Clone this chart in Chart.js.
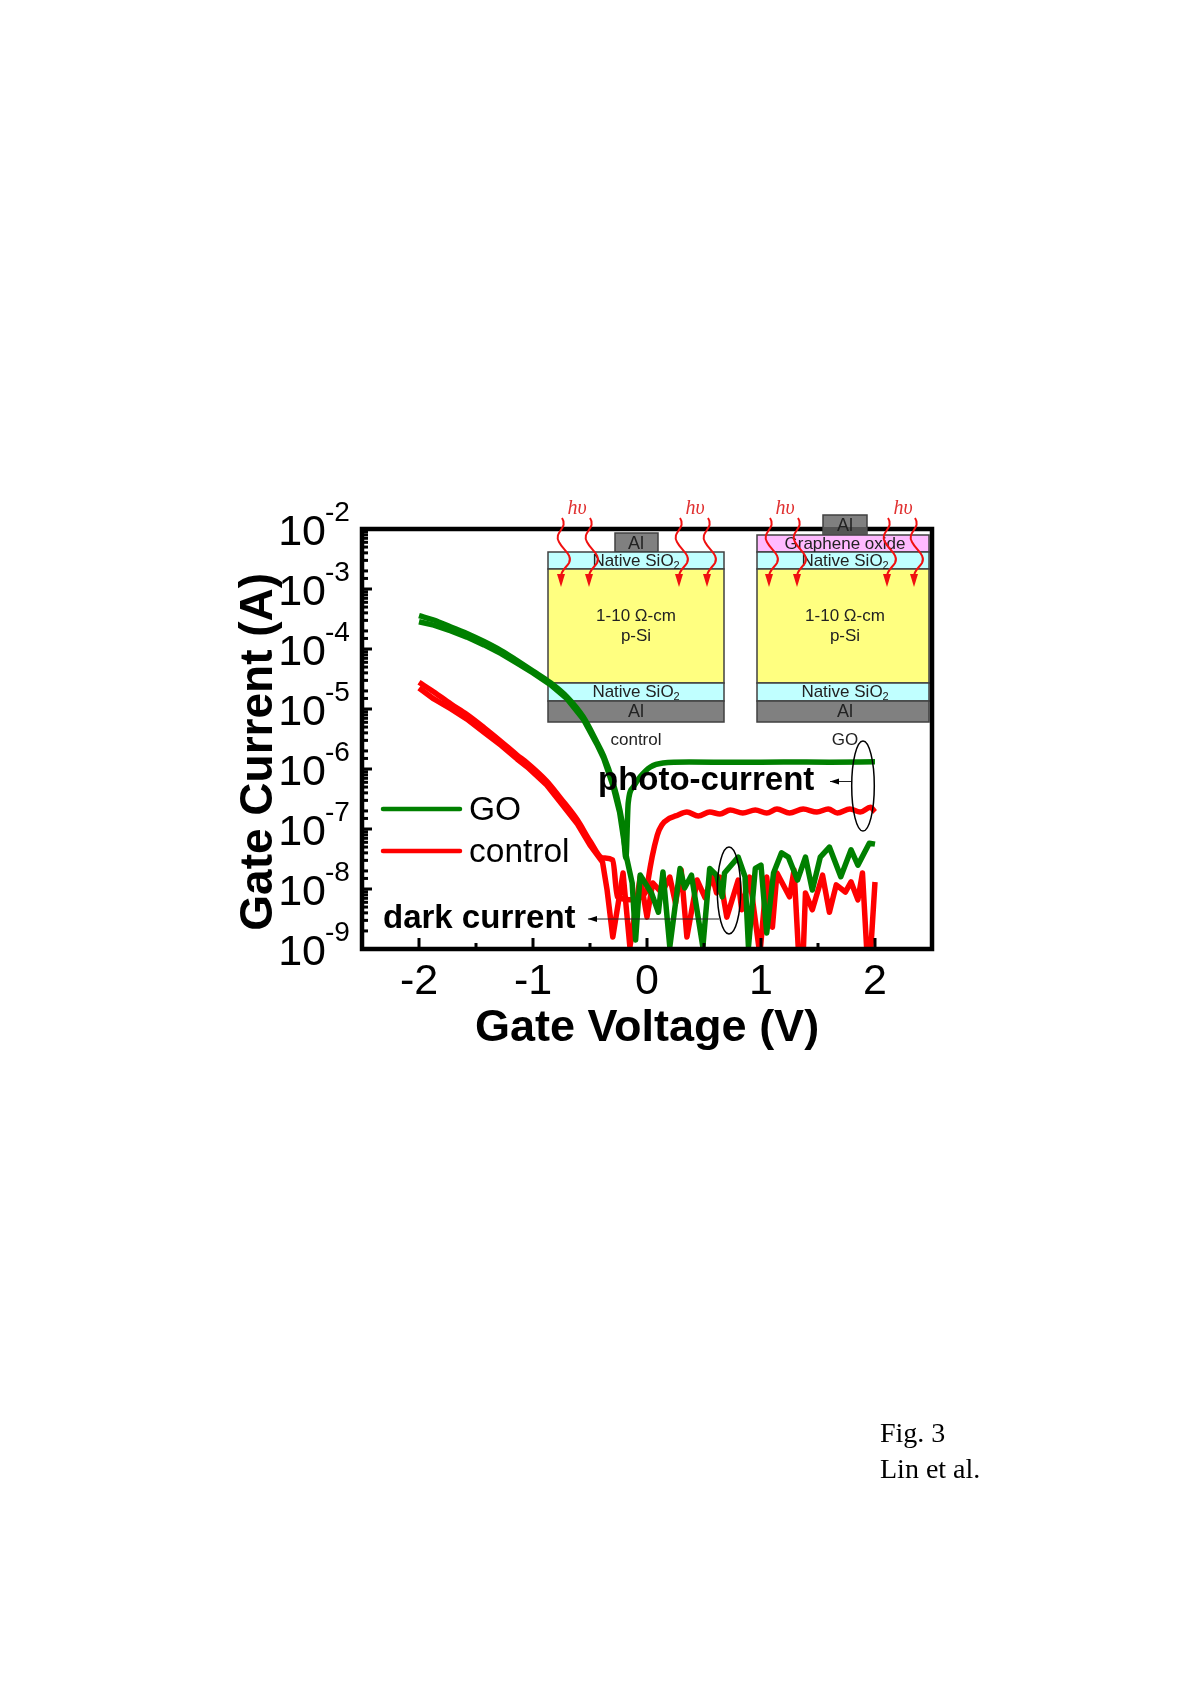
<!DOCTYPE html>
<html>
<head>
<meta charset="utf-8">
<title>Fig. 3</title>
<script src="https://cdn.jsdelivr.net/npm/chart.js@4/dist/chart.umd.min.js"></script>
<style>
  html, body { margin: 0; padding: 0; background: #fff; }
  #wrap { position: relative; width: 1200px; height: 1698px; overflow: hidden; }
  canvas { position: absolute; left: 0; top: 0; }
  .caption { position: absolute; left: 880px; font: 28px/30px "Liberation Serif", serif; color: #000; }
</style>
</head>
<body>
<div id="wrap">
  <canvas id="chart" width="1200" height="1698"></canvas>
  <div class="caption" style="top:1418px">Fig. 3</div>
  <div class="caption" style="top:1454px">Lin et al.</div>
</div>
<script>
const yTickLabels = ["1e-9", "1e-8", "1e-7", "1e-6", "1e-5", "1e-4", "1e-3", "1e-2"];
const xTickLabels = [-2, -1, 0, 1, 2];
const seriesNames = ["GO", "control"];

// GO under light
const goLightV = [-2, -1.87, -1.72, -1.58, -1.43, -1.28, -1.14, -1, -0.85, -0.7, -0.56, -0.44, -0.38, -0.3, -0.24, -0.21, -0.185, -0.165, -0.12, -0.06, 0.03, 0.14, 0.37, 0.8, 1.2, 1.6, 2];
const goLightI = [3.6e-4, 3.04e-4, 2.33e-4, 1.81e-4, 1.33e-4, 9.4e-5, 6.4e-5, 4.3e-5, 2.77e-5, 1.58e-5, 7.4e-6, 2.8e-6, 1.65e-6, 6.1e-7, 2.15e-7, 1e-7, 3.3e-8, 2.7e-7, 5e-7, 7.4e-7, 1.08e-6, 1.26e-6, 1.31e-6, 1.29e-6, 1.31e-6, 1.3e-6, 1.32e-6];

// GO in the dark
const goDarkV = [-2, -1.87, -1.72, -1.58, -1.43, -1.28, -1.14, -1, -0.85, -0.7, -0.56, -0.44, -0.38, -0.3, -0.24, -0.21, -0.18, -0.13, -0.1, -0.06, 0.04, 0.1, 0.14, 0.2, 0.29, 0.33, 0.39, 0.49, 0.55, 0.61, 0.66, 0.68, 0.8, 0.86, 0.89, 0.95, 1, 1.05, 1.11, 1.18, 1.24, 1.32, 1.39, 1.45, 1.52, 1.6, 1.7, 1.79, 1.85, 1.95, 2];
const goDarkI = [2.85e-4, 2.5e-4, 2e-4, 1.58e-4, 1.17e-4, 8.4e-5, 5.8e-5, 4e-5, 2.56e-5, 1.47e-5, 6.8e-6, 2.6e-6, 1.5e-6, 5.4e-7, 1.9e-7, 7.9e-8, 3.4e-8, 1.26e-8, 1.41e-9, 1.71e-8, 8.5e-9, 4.1e-9, 1.92e-8, 1.08e-9, 2.2e-8, 1.04e-8, 1.7e-8, 1.08e-9, 2.2e-8, 1.7e-8, 7.4e-9, 1.85e-8, 3.4e-8, 1.6e-8, 1.08e-9, 2.2e-8, 2.5e-8, 1.85e-9, 1.85e-8, 4e-8, 3.4e-8, 1.41e-8, 3.4e-8, 9.6e-9, 3.4e-8, 5e-8, 1.6e-8, 4.5e-8, 2.5e-8, 5.8e-8, 5.6e-8];

// control under light
const controlLightV = [-2, -1.87, -1.72, -1.58, -1.43, -1.28, -1.14, -1.05, -0.88, -0.76, -0.61, -0.5, -0.39, -0.3, -0.26, -0.15, 0, 0.01, 0.09, 0.13, 0.2, 0.25, 0.35, 0.45, 0.55, 0.64, 0.73, 0.84, 0.95, 1.05, 1.14, 1.25, 1.37, 1.49, 1.59, 1.67, 1.78, 1.87, 1.96, 2];
const controlLightI = [2.8e-5, 1.92e-5, 1.21e-5, 8.1e-6, 4.9e-6, 2.87e-6, 1.71e-6, 1.26e-6, 6.3e-7, 3.3e-7, 1.41e-7, 6.3e-8, 3.3e-8, 3.04e-8, 7.4e-9, 6.6e-9, 9.6e-9, 1.41e-8, 7.9e-8, 1.17e-7, 1.52e-7, 1.65e-7, 1.92e-7, 1.65e-7, 1.92e-7, 1.78e-7, 2.07e-7, 1.85e-7, 2.07e-7, 1.85e-7, 2.15e-7, 1.85e-7, 2.15e-7, 1.92e-7, 2.15e-7, 1.85e-7, 2.15e-7, 1.92e-7, 2.3e-7, 1.92e-7];

// control in the dark
const controlDarkV = [-2, -1.87, -1.72, -1.58, -1.43, -1.28, -1.14, -1.05, -0.88, -0.76, -0.61, -0.5, -0.39, -0.35, -0.3, -0.21, -0.15, -0.06, 0, 0.05, 0.13, 0.2, 0.25, 0.3, 0.35, 0.44, 0.51, 0.57, 0.61, 0.64, 0.7, 0.8, 0.83, 0.9, 0.99, 1.05, 1.1, 1.14, 1.25, 1.29, 1.33, 1.37, 1.39, 1.45, 1.54, 1.6, 1.66, 1.74, 1.79, 1.85, 1.89, 1.93, 1.96, 2];
const controlDarkI = [2.24e-5, 1.47e-5, 1e-5, 6.8e-6, 4.1e-6, 2.47e-6, 1.47e-6, 1.08e-6, 5.4e-7, 2.8e-7, 1.21e-7, 5.4e-8, 2.8e-8, 9.6e-9, 1.58e-9, 1.85e-8, 1.08e-9, 1.58e-8, 3.4e-9, 1.26e-8, 8.6e-9, 1.58e-8, 5.8e-9, 2.07e-8, 1.58e-9, 1.41e-8, 7.1e-9, 1.71e-8, 8.6e-9, 1.58e-8, 3.4e-9, 1.41e-8, 4.5e-9, 1.58e-8, 8e-10, 1.58e-8, 2.3e-9, 1.85e-8, 7.4e-9, 2.07e-8, 8e-10, 8e-10, 8.6e-9, 4.5e-9, 1.7e-8, 4.1e-9, 1.17e-8, 8.9e-9, 1.31e-8, 6.6e-9, 1.85e-8, 8e-10, 8e-10, 1.31e-8];

const GREEN = "#008000";
const RED = "#ff0000";
const SANS = '"Liberation Sans", Arial, sans-serif';

function toPoints(xs, ys) {
  return xs.map((x, i) => ({ x: x, y: ys[i] }));
}

function curve(label, xs, ys, color, smooth) {
  return {
    label: label,
    data: toPoints(xs, ys),
    borderColor: color,
    backgroundColor: color,
    borderWidth: 5.5,
    pointRadius: 0,
    tension: 0,
    cubicInterpolationMode: smooth ? "monotone" : "default",
    borderJoinStyle: "round",
  };
}

function label(ctx, text, x, y, font, color, align) {
  ctx.font = font;
  ctx.fillStyle = color || "#000";
  ctx.textAlign = align || "center";
  ctx.textBaseline = "alphabetic";
  ctx.fillText(text, x, y);
}

function layer(ctx, x, y, w, h, fill) {
  ctx.fillStyle = fill;
  ctx.fillRect(x, y, w, h);
  ctx.strokeStyle = "#404040";
  ctx.lineWidth = 1.5;
  ctx.strokeRect(x, y, w, h);
}

function nativeOxide(ctx, cx, baseline) {
  const text = "Native SiO";
  ctx.font = "17px " + SANS;
  const w = ctx.measureText(text).width;
  label(ctx, text, cx - 3 - w / 2, baseline, "17px " + SANS, "#222", "left");
  label(ctx, "2", cx - 3 + w / 2, baseline + 3, "11px " + SANS, "#222", "left");
}

function device(ctx, left, width, cx, caption) {
  layer(ctx, left, 552, width, 17, "#c0ffff");
  layer(ctx, left, 569, width, 114, "#ffff80");
  layer(ctx, left, 683, width, 18, "#c0ffff");
  layer(ctx, left, 701, width, 21, "#808080");
  nativeOxide(ctx, cx, 566);
  nativeOxide(ctx, cx, 697);
  label(ctx, "1-10 Ω-cm", cx, 621, "17px " + SANS, "#222");
  label(ctx, "p-Si", cx, 641, "17px " + SANS, "#222");
  label(ctx, "Al", cx, 717, "18px " + SANS, "#222");
  label(ctx, caption, cx, 745, "17px " + SANS, "#222");
}

function wavyArrow(ctx, x) {
  ctx.strokeStyle = "#f01010";
  ctx.fillStyle = "#f01010";
  ctx.lineWidth = 2;
  ctx.beginPath();
  ctx.moveTo(x, 518);
  ctx.bezierCurveTo(x + 7, 528, x - 9, 532, x - 3, 542);
  ctx.bezierCurveTo(x + 1, 550, x + 11, 555, x + 7, 563);
  ctx.bezierCurveTo(x + 4, 568, x - 1, 570, x - 1, 577);
  ctx.stroke();
  ctx.beginPath();
  ctx.moveTo(x - 1, 587);
  ctx.lineTo(x - 5, 574);
  ctx.lineTo(x + 3, 574);
  ctx.closePath();
  ctx.fill();
}

function ellipse(ctx, cx, cy, rx, ry) {
  ctx.strokeStyle = "#000";
  ctx.lineWidth = 1.5;
  ctx.beginPath();
  ctx.ellipse(cx, cy, rx, ry, 0, 0, Math.PI * 2);
  ctx.stroke();
}

function pointer(ctx, x1, x2, y) {
  ctx.strokeStyle = "#222";
  ctx.fillStyle = "#000";
  ctx.lineWidth = 1;
  ctx.beginPath();
  ctx.moveTo(x1, y);
  ctx.lineTo(x2, y);
  ctx.stroke();
  ctx.beginPath();
  ctx.moveTo(x1, y);
  ctx.lineTo(x1 + 9, y - 3);
  ctx.lineTo(x1 + 9, y + 3);
  ctx.closePath();
  ctx.fill();
}

// inset goes under the curves
const insetPlugin = {
  id: "inset",
  beforeDatasetsDraw(chart) {
    const ctx = chart.ctx;
    ctx.save();
    layer(ctx, 615, 533, 43, 19, "#808080");
    label(ctx, "Al", 636, 549, "18px " + SANS, "#222");
    device(ctx, 548, 176, 636, "control");

    layer(ctx, 757, 535, 172, 17, "#ffbaff");
    device(ctx, 757, 172, 845, "GO");
    label(ctx, "Graphene oxide", 845, 549, "17px " + SANS, "#222");
    ctx.restore();
  },
};

// frame, ticks, exponents, legend and notes go over the curves
const overlayPlugin = {
  id: "overlay",
  afterDatasetsDraw(chart) {
    const ctx = chart.ctx;
    const area = chart.chartArea;
    const xScale = chart.scales.x;
    const yScale = chart.scales.y;
    ctx.save();

    ctx.strokeStyle = "#000";
    ctx.lineWidth = 3;
    yScale.ticks.forEach((t) => {
      const y = yScale.getPixelForValue(t.value);
      const exp = Math.log10(t.value);
      const major = Math.abs(exp - Math.round(exp)) < 1e-6;
      ctx.beginPath();
      ctx.moveTo(area.left, y);
      ctx.lineTo(area.left + (major ? 10 : 6), y);
      ctx.stroke();
      if (major) {
        label(ctx, "10", 326, y + 16, "43px " + SANS, "#000", "right");
        label(ctx, String(Math.round(exp)), 325, y - 8, "28px " + SANS, "#000", "left");
      }
    });
    xScale.ticks.forEach((t) => {
      const x = xScale.getPixelForValue(t.value);
      const major = Number.isInteger(t.value);
      ctx.beginPath();
      ctx.moveTo(x, area.bottom);
      ctx.lineTo(x, area.bottom - (major ? 11 : 6));
      ctx.stroke();
    });

    ctx.lineWidth = 4.5;
    ctx.strokeRect(area.left, area.top, area.right - area.left, area.bottom - area.top);

    // top contact of the GO device sits over the frame
    layer(ctx, 823, 515, 44, 19, "#808080");
    ctx.fillStyle = "#555";
    ctx.fillRect(823, 527, 44, 7);
    label(ctx, "Al", 845, 531, "18px " + SANS, "#222");

    [562, 590, 680, 708, 770, 798, 888, 915].forEach((x) => wavyArrow(ctx, x));
    [577, 695, 785, 903].forEach((x) => {
      label(ctx, "hυ", x, 514, 'italic 20px "Liberation Serif", serif', "#e03030");
    });

    [GREEN, RED].forEach((color, i) => {
      const y = i == 0 ? 809 : 851;
      ctx.strokeStyle = color;
      ctx.lineWidth = 4.5;
      ctx.lineCap = "round";
      ctx.beginPath();
      ctx.moveTo(383, y);
      ctx.lineTo(460, y);
      ctx.stroke();
      ctx.lineCap = "butt";
      label(ctx, seriesNames[i], 469, y + 11, "33.5px " + SANS, "#000", "left");
    });

    label(ctx, "photo-current", 598, 790, "bold 33px " + SANS, "#000", "left");
    label(ctx, "dark current", 383, 928, "bold 33px " + SANS, "#000", "left");
    pointer(ctx, 830, 852, 781.5);
    pointer(ctx, 588, 719, 919);
    ellipse(ctx, 863, 786, 11.3, 45);
    ellipse(ctx, 729, 890.5, 11.7, 43.5);
    ctx.restore();
  },
};

new Chart(document.getElementById("chart"), {
  type: "line",
  data: {
    datasets: [
      curve("GO", goDarkV, goDarkI, GREEN, false),
      curve("GO light", goLightV, goLightI, GREEN, true),
      curve("control", controlDarkV, controlDarkI, RED, false),
      curve("control light", controlLightV, controlLightI, RED, true),
    ],
  },
  plugins: [insetPlugin, overlayPlugin],
  options: {
    responsive: false,
    animation: false,
    layout: { padding: { left: 0, right: 268, top: 529, bottom: 642 } },
    plugins: {
      legend: { display: false },
      tooltip: { enabled: false },
    },
    scales: {
      x: {
        type: "linear",
        min: -2.5,
        max: 2.5,
        afterFit(scale) {
          scale.height = 107;
        },
        grid: { display: false },
        border: { display: false },
        ticks: {
          stepSize: 0.5,
          autoSkip: false,
          maxRotation: 0,
          padding: -1,
          color: "#000",
          font: { family: SANS, size: 43 },
          callback: (v) => (xTickLabels.includes(v) ? String(v) : ""),
        },
        title: {
          display: true,
          text: "Gate Voltage (V)",
          color: "#000",
          padding: 0,
          font: { family: SANS, size: 45, weight: "bold" },
        },
      },
      y: {
        type: "logarithmic",
        min: Number(yTickLabels[0]),
        max: Number(yTickLabels[yTickLabels.length - 1]),
        afterFit(scale) {
          scale.width = 362;
        },
        grid: { display: false },
        border: { display: false },
        ticks: {
          autoSkip: false,
          maxRotation: 0,
          // decade labels have a superscript, the overlay plugin writes them
          callback: () => "",
        },
        title: {
          display: true,
          text: "Gate Current (A)\u00a0\u00a0",
          color: "#000",
          padding: { top: 232, bottom: 0 },
          font: { family: SANS, size: 46, weight: "bold" },
        },
      },
    },
  },
});
</script>
</body>
</html>
